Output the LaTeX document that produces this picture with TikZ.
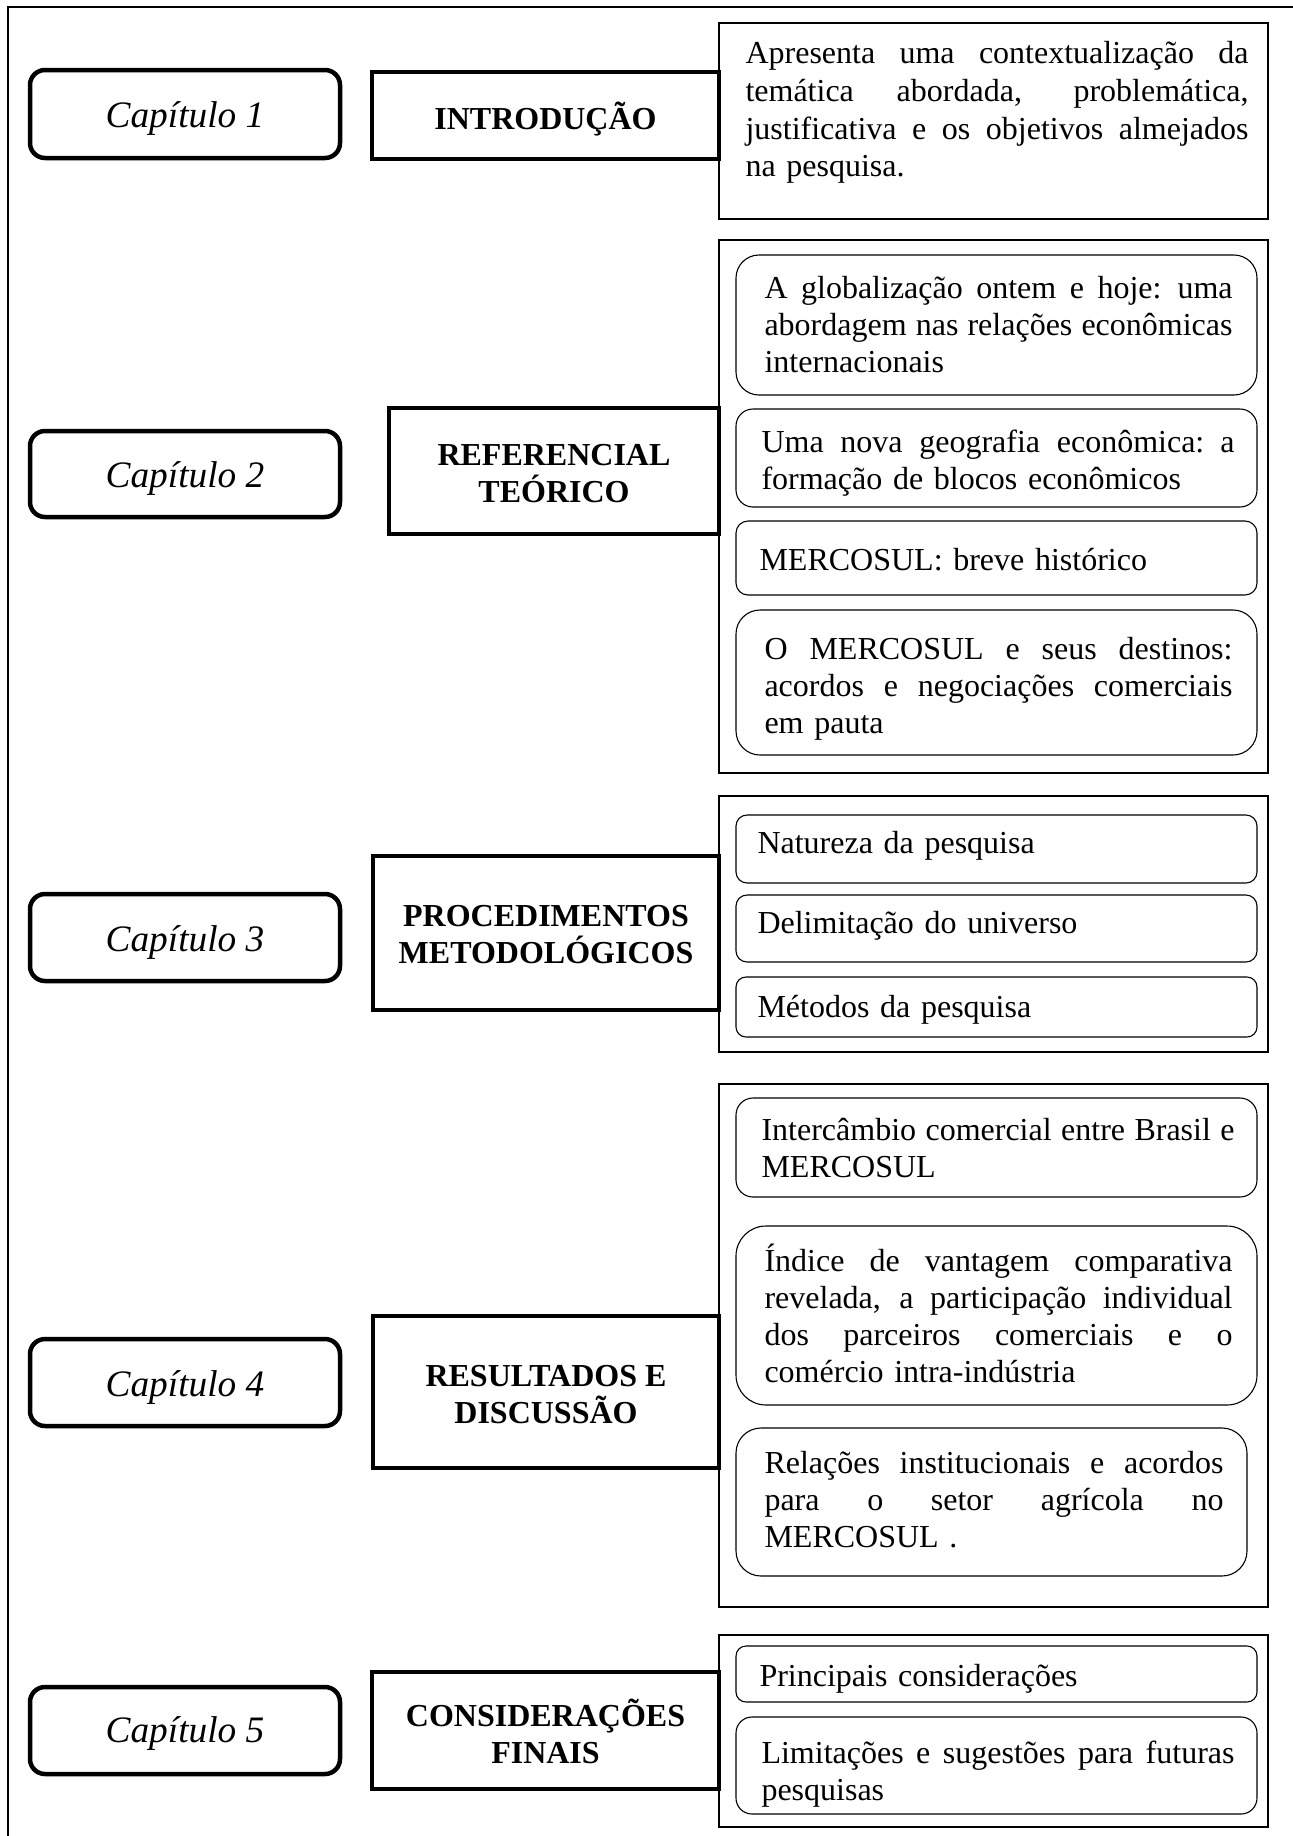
\documentclass[tikz,border=0pt]{standalone}
\usepackage{fontspec}
\setmainfont{Liberation Serif}
\newlength\uu
\setlength\uu{0.375pt}
\newlength\jw
\newcommand\jl[1]{\leavevmode\hbox to\jw{\spaceskip=\fontdimen2\font plus 1fil\relax #1}}
\newcommand\boxat[7]{\node[#2, minimum width={(#5-#3)*\uu}, minimum height={(#6-#4)*\uu}] (#1) at ({(#3+#5)/2},{(#4+#6)/2}) {#7};}
\newcommand\tx[5]{\setlength\jw{#4\uu}\node[txt, text width=\jw] (#1) at (#2,#3) {#5};}
\tikzset{
  chap/.style={draw, line width=4.5\uu, rounded corners=15\uu, inner sep=0},
  chaptext/.style={inner sep=0, font=\fontsize{14}{16}\selectfont\itshape},
  ttl/.style={draw, line width=4.5\uu, inner sep=0},
  ttltext/.style={inner sep=0, align=center, font=\fontsize{12}{13.9}\selectfont\bfseries},
  cont/.style={draw, line width=1.6\uu, inner sep=0},
  sub/.style={draw, line width=1.1\uu, inner sep=0, rounded corners=#1\uu},
  txt/.style={anchor=base west, inner sep=0, align=left, font=\fontsize{12}{13.9}\selectfont}
}
\begin{document}
\begin{tikzpicture}[x=0.375pt, y=-0.375pt]
\useasboundingbox (0,0) rectangle (1293,1836);
% outer frame
\coordinate (fbl) at (8,1836);
\coordinate (ftl) at (8,7);
\coordinate (ftr) at (1293,7);
\draw[line width=2\uu] (fbl) -- (ftl) -- (ftr);
% containers
\boxat{k1}{cont}{719}{23}{1268}{219}{}
\boxat{k2}{cont}{719}{240}{1268}{773}{}
\boxat{k3}{cont}{719}{796}{1268}{1052}{}
\boxat{k4}{cont}{719}{1084}{1268}{1607}{}
\boxat{k5}{cont}{719}{1635}{1268}{1827}{}
% chapter boxes
\boxat{cap1}{chap}{30}{70}{340}{158}{}
\boxat{cap2}{chap}{30}{431}{340}{517}{}
\boxat{cap3}{chap}{30}{894}{340}{981}{}
\boxat{cap4}{chap}{30}{1339}{340}{1426}{}
\boxat{cap5}{chap}{30}{1687}{340}{1774}{}
\node[chaptext] (cap1l) at ([yshift=-4\uu]cap1.center) {Capítulo 1};
\node[chaptext] (cap2l) at ([yshift=-4\uu]cap2.center) {Capítulo 2};
\node[chaptext] (cap3l) at ([yshift=-5\uu]cap3.center) {Capítulo 3};
\node[chaptext] (cap4l) at ([yshift=-5\uu]cap4.center) {Capítulo 4};
\node[chaptext] (cap5l) at ([yshift=-3\uu]cap5.center) {Capítulo 5};
% title boxes
\boxat{t1}{ttl}{372}{72}{719}{159}{}
\boxat{t2}{ttl}{389}{408}{719}{534}{}
\boxat{t3}{ttl}{373}{856}{719}{1010}{}
\boxat{t4}{ttl}{373}{1316}{719}{1468}{}
\boxat{t5}{ttl}{372}{1672}{719}{1789}{}
\node[ttltext] (t1l) at ([yshift=-4\uu]t1.center) {INTRODUÇÃO};
\node[ttltext] (t2l) at ([yshift=-3\uu]t2.center) {REFERENCIAL\\TEÓRICO};
\node[ttltext] (t3l) at ([yshift=-2\uu]t3.center) {PROCEDIMENTOS\\METODOLÓGICOS};
\node[ttltext] (t4l) at ([yshift=-3\uu]t4.center) {RESULTADOS E\\DISCUSSÃO};
\node[ttltext] (t5l) at ([yshift=-1\uu]t5.center) {CONSIDERAÇÕES\\FINAIS};
% inner boxes
\boxat{s2a}{sub=23}{736}{255}{1257}{395}{}
\boxat{s2b}{sub=17}{736}{409}{1257}{507}{}
\boxat{s2c}{sub=12}{736}{521}{1257}{595}{}
\boxat{s2d}{sub=24}{736}{610}{1257}{755}{}
\boxat{s3a}{sub=11}{736}{815}{1257}{883}{}
\boxat{s3b}{sub=11}{736}{895}{1257}{962}{}
\boxat{s3c}{sub=10}{736}{977}{1257}{1037}{}
\boxat{s4a}{sub=17}{736}{1098}{1257}{1197}{}
\boxat{s4b}{sub=30}{736}{1226}{1257}{1405}{}
\boxat{s4c}{sub=25}{736}{1428}{1247}{1576}{}
\boxat{s5a}{sub=10}{736}{1646}{1257}{1702}{}
\boxat{s5b}{sub=16}{736}{1717}{1257}{1814}{}
% texts
\tx{k1t}{745}{63}{503}{\fontsize{12}{14.4}\selectfont\jl{Apresenta uma contextualização da}\\\jl{temática abordada, problemática,}\\\jl{justificativa e os objetivos almejados}\\na pesquisa.}
\tx{s2at}{764}{298}{468}{\jl{A globalização ontem e hoje: uma}\\\jl{abordagem nas relações econômicas}\\internacionais}
\tx{s2bt}{761}{452}{473}{\jl{Uma nova geografia econômica: a}\\formação de blocos econômicos}
\tx{s2ct}{759}{570}{470}{MERCOSUL: breve histórico}
\tx{s2dt}{764}{659}{468}{\jl{O MERCOSUL e seus destinos:}\\\jl{acordos e negociações comerciais}\\em pauta}
\tx{s3at}{757}{853}{470}{Natureza da pesquisa}
\tx{s3bt}{757}{933}{470}{Delimitação do universo}
\tx{s3ct}{757}{1017}{470}{Métodos da pesquisa}
\tx{s4at}{761}{1140}{473}{\jl{Intercâmbio comercial entre Brasil e}\\MERCOSUL}
\tx{s4bt}{764}{1271}{468}{\jl{Índice de vantagem comparativa}\\\jl{revelada, a participação individual}\\\jl{dos parceiros comerciais e o}\\comércio intra-indústria}
\tx{s4ct}{764}{1473}{459}{\jl{Relações institucionais e acordos}\\\jl{para o setor agrícola no}\\MERCOSUL .}
\tx{s5at}{759}{1686}{470}{Principais considerações}
\tx{s5bt}{761}{1763}{473}{\jl{Limitações e sugestões para futuras}\\pesquisas}
\end{tikzpicture}
\end{document}
